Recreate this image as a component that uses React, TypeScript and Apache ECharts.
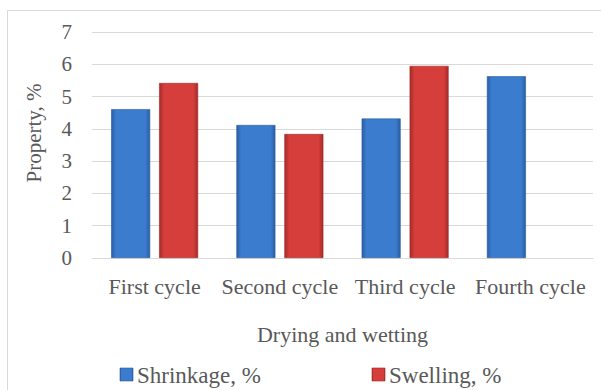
import React, { useEffect, useRef } from "react";
import * as echarts from "echarts";

const categories = ["First cycle", "Second cycle", "Third cycle", "Fourth cycle"];
const shrinkage = [4.61, 4.12, 4.32, 5.63];
const swelling: (number | null)[] = [5.42, 3.84, 5.95, null];
const yTicks = [0, 1, 2, 3, 4, 5, 6, 7];
const seriesNames = ["Shrinkage, %", "Swelling, %"];

const FONT = "Liberation Serif";
const TEXT = "#595959";

function grad(edge: string, mid: string) {
  return new echarts.graphic.LinearGradient(0, 0, 1, 0, [
    { offset: 0, color: edge },
    { offset: 0.12, color: mid },
    { offset: 0.88, color: mid },
    { offset: 1, color: edge },
  ]);
}

const BLUE = ["#2a5ea6", "#3b7ccf", "#2b5d9c"];
const RED = ["#a82a28", "#d53e3b", "#9e2a28"];

export default function App() {
  const ref = useRef<HTMLDivElement>(null);
  useEffect(() => {
    if (!ref.current) return;
    const chart = echarts.init(ref.current, undefined, { renderer: "svg" });
    const legendItem = (name: string, left: number, c: string[]) => [
      {
        type: "rect",
        shape: { x: left, y: 368, width: 13, height: 13 },
        style: { fill: grad(c[0], c[1]), stroke: c[2], lineWidth: 0.6 },
        silent: true,
      },
      {
        type: "text",
        x: left + 17,
        y: 375,
        style: {
          text: name,
          fontFamily: FONT,
          fontSize: 23,
          fill: TEXT,
          verticalAlign: "middle",
          align: "left",
        },
        silent: true,
      },
    ];
    chart.setOption({
      animation: false,
      backgroundColor: "#ffffff",
      textStyle: { fontFamily: FONT },
      graphic: [
        {
          type: "rect",
          shape: { x: 7.5, y: 10.5, width: 620, height: 400 },
          style: { fill: "none", stroke: "#d9d9d9", lineWidth: 1 },
          silent: true,
        },
        ...legendItem(seriesNames[0], 120, BLUE),
        ...legendItem(seriesNames[1], 372, RED),
      ],
      grid: { left: 92, right: 8, top: 32, bottom: 132 },
      xAxis: {
        type: "category",
        data: categories,
        name: "Drying and wetting",
        nameLocation: "middle",
        nameGap: 65,
        nameTextStyle: { fontFamily: FONT, fontSize: 22, color: TEXT },
        axisLine: { lineStyle: { color: "#d9d9d9" } },
        axisTick: { show: false },
        axisLabel: { fontFamily: FONT, fontSize: 22, color: TEXT, margin: 17, interval: 0 },
      },
      yAxis: {
        type: "value",
        min: yTicks[0],
        max: yTicks[yTicks.length - 1],
        interval: 1,
        name: "Property, %",
        nameLocation: "middle",
        nameGap: 48,
        nameTextStyle: { fontFamily: FONT, fontSize: 21, color: TEXT, padding: [0, 0, 0, 24] },
        axisLabel: { fontFamily: FONT, fontSize: 21, color: TEXT, margin: 20 },
        splitLine: { lineStyle: { color: "#d9d9d9" } },
        axisLine: { show: false },
        axisTick: { show: false },
      },
      series: [
        {
          name: seriesNames[0],
          type: "bar",
          data: shrinkage,
          barWidth: 39,
          barGap: "23%",
          itemStyle: { color: grad(BLUE[0], BLUE[1]), borderColor: BLUE[2], borderWidth: 0.6 },
        },
        {
          name: seriesNames[1],
          type: "bar",
          data: swelling,
          barWidth: 39,
          itemStyle: { color: grad(RED[0], RED[1]), borderColor: RED[2], borderWidth: 0.6 },
        },
      ],
    });
    return () => chart.dispose();
  }, []);
  return <div ref={ref} style={{ width: 601, height: 390, position: "absolute", left: 0, top: 0 }} />;
}
